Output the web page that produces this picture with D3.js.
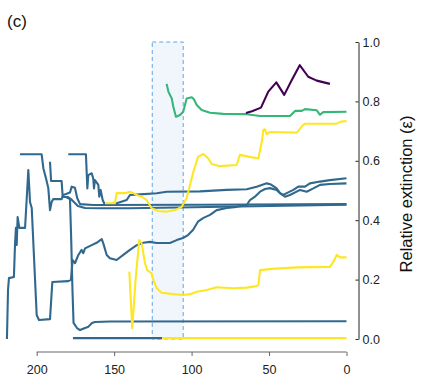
<!DOCTYPE html>
<html>
<head>
<meta charset="utf-8">
<script src="https://cdn.jsdelivr.net/npm/d3@7"></script>
<style>
  body { margin: 0; background: #fff; }
  svg { font-family: "Liberation Sans", Arial, sans-serif; }
  .x-axis path, .x-axis line { stroke: #666; }
  .y-axis path, .y-axis line { stroke: #222; }
  .tick text { fill: #222; font-size: 12.5px; }
</style>
</head>
<body>
<div id="chart"></div>
<script>
// ages (Ma) and relative extinction values
const xTicks = [200, 150, 100, 50, 0];
const yTicks = [0, 0.2, 0.4, 0.6, 0.8, 1.0];
const window1 = [125.4, 105.4];

const blueA = [[219.2,0.00],[218.5,0.165],[217.9,0.205],[214.7,0.209],[214.0,0.317],[213.4,0.374],[212.9,0.317],
  [212.3,0.411],[211.2,0.374],[207.5,0.374],[205.4,0.569],[204.3,0.461],[203.2,0.441],[200.0,0.081],[198.5,0.064],
  [191.4,0.067],[189.9,0.192],[179.6,0.195],[177.9,0.199],[176.8,0.266],[175.3,0.255],[173.1,0.283],[171.0,0.300],
  [169.9,0.289],[168.8,0.305],[164.5,0.316],[161.3,0.324],[158.0,0.336],[157.0,0.322],[154.8,0.283],[152.7,0.272],
  [148.4,0.266],[144.1,0.283],[139.8,0.300],[135.4,0.316],[131.2,0.324],[126.9,0.327],[122.5,0.323],[118.5,0.323],
  [114.0,0.323],[109.6,0.333],[105.6,0.340],[102.3,0.350],[99.1,0.367],[95.9,0.395],[92.6,0.407],[88.1,0.418],
  [83.8,0.434],[77.3,0.441],[70.9,0.445],[64.4,0.451],[62.3,0.468],[59.1,0.479],[55.8,0.496],[52.6,0.505],
  [49.4,0.508],[45.1,0.502],[42.9,0.491],[41.0,0.485],[38.6,0.491],[34.3,0.502],[31.1,0.513],[26.8,0.513],
  [23.6,0.524],[17.1,0.530],[10.7,0.535],[0,0.541]];

const blueB = [[210.8,0.622],[196.8,0.622],[195.7,0.575],[194.0,0.541],[192.5,0.508],[191.4,0.434],[190.3,0.462],
  [189.3,0.471],[183.9,0.471],[182.8,0.485],[178.5,0.493],[177.4,0.513],[175.3,0.509],[173.8,0.474],[172.0,0.454],
  [163.5,0.451],[94.6,0.452],[0,0.454]];

const blueC = [[191.4,0.597],[190.7,0.532],[183.9,0.532],[183.2,0.478],[179.8,0.478],[177.9,0.471],[173.4,0.448],
  [168.8,0.441],[159.1,0.440],[139.8,0.440],[68.8,0.446],[0,0.452]];

const blueD = [[179.6,0.622],[168.2,0.622],[167.3,0.507],[166.7,0.552],[164.5,0.558],[163.5,0.541],[163.0,0.507],
  [162.4,0.535],[160.2,0.519],[159.6,0.479],[158.7,0.502],[157.4,0.468],[155.9,0.451],[148.4,0.457],[141.9,0.468],
  [139.8,0.485],[133.4,0.487],[122.5,0.491],[116.1,0.496],[94.6,0.497],[77.3,0.502],[64.4,0.504],[58.0,0.513],
  [51.5,0.524],[48.7,0.520],[45.1,0.507],[42.9,0.491],[39.7,0.479],[36.5,0.485],[30.0,0.502],[25.7,0.496],
  [21.4,0.507],[17.1,0.519],[10.7,0.522],[0,0.524]];

const blueE = [[181.1,0.478],[178.5,0.471],[177.7,0.333],[176.9,0.165],[176.2,0.054],[174.0,0.037],[172.0,0.030],
  [168.8,0.037],[166.9,0.040],[164.3,0.054],[162.4,0.057],[152.7,0.059],[0,0.060]];

const blueBase = [[176.6,0.003],[119.1,0.003]];

const yellowTop = [[155.9,0.457],[149.5,0.457],[148.4,0.491],[143.0,0.491],[139.8,0.496],[137.6,0.491],[135.4,0.485],
  [132.2,0.479],[129.0,0.468],[125.8,0.440],[121.5,0.431],[116.1,0.429],[110.7,0.434],[106.4,0.445],[103.2,0.474],
  [98.9,0.562],[95.9,0.613],[92.4,0.623],[89.2,0.608],[87.0,0.589],[81.7,0.582],[70.9,0.586],[68.8,0.620],
  [63.4,0.614],[56.9,0.608],[55.8,0.636],[54.5,0.670],[53.7,0.704],[52.6,0.706],[51.5,0.690],[49.4,0.697],
  [32.0,0.695],[28.7,0.717],[26.8,0.725],[6.3,0.725],[3.6,0.732],[0,0.734]];

const yellowMid = [[140.2,0.227],[138.3,0.036],[136.1,0.204],[133.8,0.333],[132.2,0.322],[130.1,0.255],[128.6,0.232],
  [125.8,0.221],[124.7,0.199],[122.5,0.171],[119.3,0.156],[111.8,0.151],[105.4,0.148],[101.0,0.151],[96.7,0.159],
  [90.3,0.165],[83.8,0.174],[73.1,0.171],[64.4,0.173],[58.0,0.178],[56.9,0.182],[55.8,0.232],[48.3,0.236],
  [32.1,0.241],[10.7,0.243],[8.5,0.260],[6.3,0.283],[4.2,0.275],[0,0.275]];

const yellowBase = [[119.1,0.003],[0,0.003]];

const greenLine = [[116.1,0.859],[115.0,0.833],[112.8,0.810],[111.8,0.782],[110.1,0.748],[107.5,0.754],[105.4,0.765],
  [103.2,0.810],[99.9,0.814],[98.5,0.807],[96.7,0.788],[93.5,0.771],[88.1,0.762],[79.5,0.758],[64.4,0.757],
  [55.8,0.751],[36.5,0.751],[33.2,0.768],[28.9,0.768],[26.8,0.774],[19.2,0.770],[17.1,0.755],[15.0,0.764],[0,0.765]];

const purpleLine = [[64.9,0.761],[61.0,0.767],[55.2,0.779],[50.5,0.833],[45.3,0.864],[40.2,0.822],[35.4,0.871],
  [30.2,0.922],[24.7,0.883],[19.2,0.870],[10.7,0.859]];

const blue = "#31688e", yellow = "#fde725", green = "#35b779", purple = "#440154";
const series = [
  {d: blueA, c: blue}, {d: blueB, c: blue}, {d: blueC, c: blue}, {d: blueD, c: blue}, {d: blueE, c: blue},
  {d: blueBase, c: blue},
  {d: yellowTop, c: yellow}, {d: yellowMid, c: yellow}, {d: yellowBase, c: yellow},
  {d: greenLine, c: green}, {d: purpleLine, c: purple}
];

const W = 421, H = 379;
const svg = d3.select("#chart").append("svg").attr("width", W).attr("height", H);

const x = d3.scaleLinear().domain([220, 0]).range([5.7, 346.5]);
const y = d3.scaleLinear().domain([0, 1]).range([339, 42]);

// highlighted time window
svg.append("rect")
  .attr("x", x(window1[0]))
  .attr("y", y(1))
  .attr("width", x(window1[1]) - x(window1[0]))
  .attr("height", y(0) - y(1))
  .attr("fill", "#f1f6fc")
  .attr("stroke", "#5ea6e6")
  .attr("stroke-width", 1)
  .attr("stroke-dasharray", "4,3");

const line = d3.line().x(d => x(d[0])).y(d => y(d[1]));
svg.selectAll(".series")
  .data(series)
  .join("path")
    .attr("class", "series")
    .attr("d", s => line(s.d))
    .attr("fill", "none")
    .attr("stroke", s => s.c)
    .attr("stroke-width", 2.1)
    .attr("stroke-linejoin", "round");

// x axis
svg.append("g")
  .attr("class", "x-axis")
  .attr("transform", "translate(0, 352)")
  .call(d3.axisBottom(x).tickValues(xTicks).tickSizeOuter(0).tickSize(4).tickPadding(9))
  .call(g => g.select(".domain").attr("d", `M${x(200)},0H${x(0)}`).attr("stroke-width", 1.2));

// y axis
svg.append("g")
  .attr("class", "y-axis")
  .attr("transform", "translate(358.5, 0)")
  .call(d3.axisRight(y).tickValues(yTicks).tickFormat(d3.format(".1f")).tickSize(-3).tickSizeOuter(0).tickPadding(4))
  .call(g => g.selectAll(".tick line").attr("x1", -3).attr("x2", 0))
  .call(g => g.selectAll(".tick text").attr("x", 4));

svg.append("text")
  .attr("transform", `translate(412, 194) rotate(-90)`)
  .attr("text-anchor", "middle")
  .attr("font-size", 16.5)
  .attr("fill", "#111")
  .text("Relative extinction (ε)");

svg.append("text")
  .attr("x", 7)
  .attr("y", 27)
  .attr("font-size", 17)
  .attr("fill", "#111")
  .text("(c)");
</script>
</body>
</html>
